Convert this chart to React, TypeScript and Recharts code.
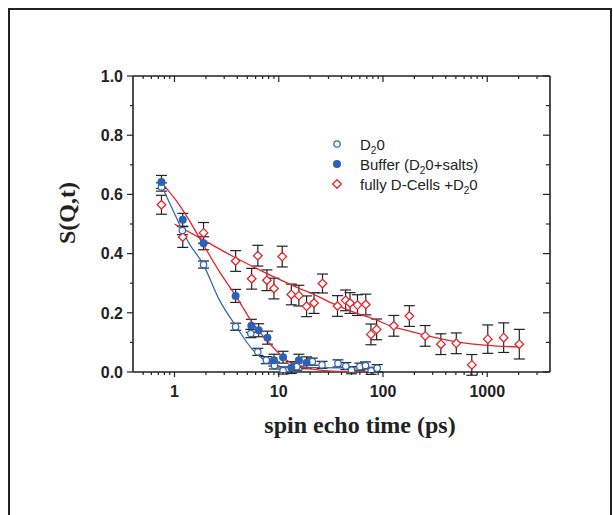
import { ScatterChart, Scatter, XAxis, YAxis, ErrorBar } from "recharts";

// spin echo times (ps), S(Q,t) values and their errors
const d2oT = [0.75, 1.19, 1.9, 3.86, 5.4, 6.3, 7.6, 9.1, 11, 14.9, 21, 26, 37, 44, 50, 60, 68, 77, 88];
const d2oS = [0.625, 0.478, 0.363, 0.153, 0.13, 0.068, 0.04, 0.022, 0.005, 0.018, 0.035, 0.024, 0.029, 0.02, 0.006, 0.018, 0.022, 0.004, 0.013];
const d2oErr = [0.014, 0.014, 0.012, 0.012, 0.014, 0.012, 0.012, 0.012, 0.012, 0.012, 0.012, 0.012, 0.012, 0.012, 0.012, 0.012, 0.012, 0.012, 0.012];

const bufT = [0.75, 1.2, 1.9, 3.86, 5.46, 6.42, 7.79, 9.0, 11.0, 13.2, 15.6, 18.5];
const bufS = [0.642, 0.514, 0.435, 0.257, 0.156, 0.141, 0.116, 0.04, 0.05, 0.015, 0.04, 0.031];
const bufErr = [0.022, 0.022, 0.022, 0.022, 0.022, 0.022, 0.022, 0.02, 0.02, 0.02, 0.02, 0.02];

const cellT = [0.75, 1.2, 1.9, 3.86, 5.5, 6.3, 7.7, 9.0, 10.8, 13.2, 15.6, 18.5, 21.8, 26.3, 36.6, 43.8, 48.3, 56.9, 68.4, 76.6, 86.9, 127, 179, 254, 359, 505, 711, 1012, 1437, 2030];
const cellS = [0.565, 0.456, 0.47, 0.375, 0.315, 0.393, 0.31, 0.282, 0.39, 0.262, 0.258, 0.222, 0.233, 0.299, 0.223, 0.242, 0.233, 0.226, 0.228, 0.127, 0.144, 0.156, 0.189, 0.122, 0.094, 0.097, 0.024, 0.111, 0.116, 0.094];
const cellErr = [0.032, 0.035, 0.035, 0.035, 0.035, 0.035, 0.035, 0.035, 0.035, 0.035, 0.035, 0.035, 0.035, 0.032, 0.035, 0.035, 0.035, 0.035, 0.035, 0.035, 0.035, 0.035, 0.035, 0.035, 0.035, 0.035, 0.035, 0.048, 0.05, 0.05];

// fitted curves, sampled from the figure
const d2oFitT = [0.75, 0.9, 1.39, 1.87, 2.71, 3.92, 5.66, 8.2, 11.9, 20, 40, 90];
const d2oFitS = [0.63, 0.57, 0.433, 0.366, 0.242, 0.153, 0.074, 0.03, 0.016, 0.015, 0.014, 0.013];
const bufFitT = [0.75, 1.04, 1.4, 1.87, 2.71, 3.92, 5.66, 8.2, 11.9, 15.9, 21, 30, 50, 80];
const bufFitS = [0.64, 0.579, 0.51, 0.433, 0.338, 0.254, 0.164, 0.096, 0.04, 0.018, 0.01, 0.004, 0.001, 0];
const cellFitT = [1, 1.87, 3.9, 8.2, 15.9, 21, 30, 50, 87, 119, 180, 282, 510, 1000, 2000];
const cellFitS = [0.5, 0.447, 0.385, 0.328, 0.282, 0.265, 0.238, 0.205, 0.175, 0.155, 0.138, 0.12, 0.102, 0.09, 0.085];

const xMajor = [1, 10, 100, 1000];
const xTicks = [0.5, 0.6, 0.7, 0.8, 0.9, 1, 2, 3, 4, 5, 6, 7, 8, 9, 10, 20, 30, 40, 50, 60, 70, 80, 90, 100, 200, 300, 400, 500, 600, 700, 800, 900, 1000, 2000, 3000];
const yTicks = [0, 0.1, 0.2, 0.3, 0.4, 0.5, 0.6, 0.7, 0.8, 0.9, 1.0];

const BLUE = "#2a62b6";
const RED = "#e4252b";
const INK = "#222";

const pts = (t: number[], s: number[], e?: number[]) =>
  t.map((v, i) => ({ t: v, s: s[i], err: e ? e[i] : 0 }));

const d2o = pts(d2oT, d2oS, d2oErr);
const buffer = pts(bufT, bufS, bufErr);
const cells = pts(cellT, cellS, cellErr);
const d2oFit = pts(d2oFitT, d2oFitS);
const bufFit = pts(bufFitT, bufFitS);
const cellFit = pts(cellFitT, cellFitS);

const tickFont = { fontFamily: "'Liberation Sans', Arial, sans-serif", fontWeight: 700, fontSize: 16, fill: INK };

function OpenCircle(p: any) {
  return <circle cx={p.cx} cy={p.cy} r={3.2} fill="#fff" stroke={BLUE} strokeWidth={1.2} />;
}
function FilledCircle(p: any) {
  return <circle cx={p.cx} cy={p.cy} r={4} fill={BLUE} />;
}
function Diamond(p: any) {
  const { cx, cy } = p;
  const h = 4.3;
  return (
    <path
      d={`M${cx},${cy - h}L${cx + h},${cy}L${cx},${cy + h}L${cx - h},${cy}Z`}
      fill="#fff"
      stroke={RED}
      strokeWidth={1.3}
    />
  );
}
const NoShape = () => <g />;

const isMajorY = (v: number) => Math.round(v * 10) % 2 === 0;

function BottomTick(p: any) {
  const v = p.payload.value;
  const major = xMajor.includes(v);
  return (
    <g>
      <line x1={p.x} x2={p.x} y1={p.y} y2={p.y + (major ? 5 : 3)} stroke={INK} strokeWidth={1.2} />
      {major && (
        <text x={p.x} y={p.y + 25} textAnchor="middle" {...tickFont}>
          {v}
        </text>
      )}
    </g>
  );
}
function TopTick(p: any) {
  const major = xMajor.includes(p.payload.value);
  return <line x1={p.x} x2={p.x} y1={p.y} y2={p.y + (major ? 6 : 3)} stroke={INK} strokeWidth={1.2} />;
}
function LeftTick(p: any) {
  const v = p.payload.value;
  const major = isMajorY(v);
  return (
    <g>
      <line x1={p.x} x2={p.x - (major ? 6 : 3)} y1={p.y} y2={p.y} stroke={INK} strokeWidth={1.2} />
      {major && (
        <text x={p.x - 10} y={p.y} dy={5.7} textAnchor="end" {...tickFont}>
          {v.toFixed(1)}
        </text>
      )}
    </g>
  );
}
function RightTick(p: any) {
  const major = isMajorY(p.payload.value);
  return <line x1={p.x} x2={p.x - (major ? 7 : 4)} y1={p.y} y2={p.y} stroke={INK} strokeWidth={1.2} />;
}

const axisLine = { stroke: INK, strokeWidth: 1.6 };

export default function App() {
  return (
    <div style={{ position: "absolute", left: 0, top: 0, width: 613, height: 515, overflow: "hidden", background: "#fff" }}>
      <div
        style={{
          position: "absolute",
          left: 8,
          top: 8,
          width: 600,
          height: 540,
          borderLeft: `2px solid ${INK}`,
          borderRight: `2px solid ${INK}`,
          borderTop: `2px solid ${INK}`,
        }}
      />
      <div style={{ position: "absolute", left: 0, top: 0 }}>
        <ScatterChart width={613} height={515} margin={{ top: 75, right: 62, bottom: 103, left: 73 }}>
          <XAxis
            xAxisId="b"
            dataKey="t"
            type="number"
            scale="log"
            domain={[0.4, 4000]}
            allowDataOverflow
            ticks={xTicks}
            interval={0}
            height={40}
            tickSize={0}
            tickMargin={0}
            tickLine={false}
            axisLine={axisLine}
            tick={<BottomTick />}
          />
          <XAxis
            xAxisId="t"
            orientation="top"
            dataKey="t"
            type="number"
            scale="log"
            domain={[0.4, 4000]}
            allowDataOverflow
            ticks={xTicks}
            interval={0}
            height={1}
            tickSize={0}
            tickMargin={0}
            tickLine={false}
            axisLine={axisLine}
            tick={<TopTick />}
          />
          <YAxis
            yAxisId="l"
            dataKey="s"
            type="number"
            domain={[0, 1]}
            allowDataOverflow
            ticks={yTicks}
            interval={0}
            width={60}
            tickSize={0}
            tickMargin={0}
            tickLine={false}
            axisLine={axisLine}
            tick={<LeftTick />}
          />
          <YAxis
            yAxisId="r"
            orientation="right"
            dataKey="s"
            type="number"
            domain={[0, 1]}
            allowDataOverflow
            ticks={yTicks}
            interval={0}
            width={1}
            tickSize={0}
            tickMargin={0}
            tickLine={false}
            axisLine={axisLine}
            tick={<RightTick />}
          />

          <Scatter xAxisId="b" yAxisId="l" data={d2oFit} line={{ stroke: BLUE, strokeWidth: 1.2 }} lineJointType="monotoneX" shape={NoShape} isAnimationActive={false} />
          <Scatter xAxisId="b" yAxisId="l" data={bufFit} line={{ stroke: RED, strokeWidth: 1.3 }} lineJointType="monotoneX" shape={NoShape} isAnimationActive={false} />
          <Scatter xAxisId="b" yAxisId="l" data={cellFit} line={{ stroke: RED, strokeWidth: 1.3 }} lineJointType="monotoneX" shape={NoShape} isAnimationActive={false} />

          <Scatter xAxisId="b" yAxisId="l" data={cells} shape={Diamond} isAnimationActive={false}>
            <ErrorBar dataKey="err" direction="y" width={5.5} stroke={INK} strokeWidth={1.2} isAnimationActive={false} />
          </Scatter>
          <Scatter xAxisId="b" yAxisId="l" data={d2o} shape={OpenCircle} isAnimationActive={false}>
            <ErrorBar dataKey="err" direction="y" width={5.5} stroke={INK} strokeWidth={1.2} isAnimationActive={false} />
          </Scatter>
          <Scatter xAxisId="b" yAxisId="l" data={buffer} shape={FilledCircle} isAnimationActive={false}>
            <ErrorBar dataKey="err" direction="y" width={5.5} stroke={INK} strokeWidth={1.2} isAnimationActive={false} />
          </Scatter>
        </ScatterChart>
      </div>
      <svg width={613} height={515} style={{ position: "absolute", left: 0, top: 0, pointerEvents: "none" }}>
        <text x={360} y={433} textAnchor="middle" fontFamily="'Liberation Serif', 'Times New Roman', serif" fontWeight={700} fontSize={24} fill={INK}>
          spin echo time (ps)
        </text>
        <text
          x={75}
          y={213}
          transform="rotate(-90 75 213)"
          textAnchor="middle"
          fontFamily="'Liberation Serif', 'Times New Roman', serif"
          fontWeight={700}
          fontSize={24}
          fill={INK}
        >
          S(Q,t)
        </text>
        <g fontFamily="'Liberation Sans', Arial, sans-serif" fontSize={15} fill={INK}>
          <OpenCircle cx={337} cy={144} />
          <text x={360} y={149.5}>
            D<tspan fontSize={10} dy={4}>2</tspan>
            <tspan dy={-4}>0</tspan>
          </text>
          <FilledCircle cx={337} cy={164} />
          <text x={360} y={169.5}>
            Buffer (D<tspan fontSize={10} dy={4}>2</tspan>
            <tspan dy={-4}>0+salts)</tspan>
          </text>
          <Diamond cx={337} cy={184} />
          <text x={360} y={189.5}>
            fully D-Cells +D<tspan fontSize={10} dy={4}>2</tspan>
            <tspan dy={-4}>0</tspan>
          </text>
        </g>
      </svg>
    </div>
  );
}
